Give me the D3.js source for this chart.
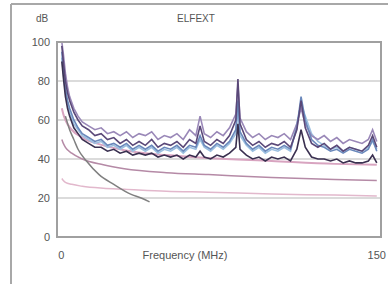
<!DOCTYPE html>
<html>
<head>
<meta charset="utf-8">
<script src="https://cdn.jsdelivr.net/npm/d3@7"></script>
<style>
  body { margin: 0; background: #fff; }
  svg { display: block; font-family: "Liberation Sans", Arial, sans-serif; }
</style>
</head>
<body>
<div id="chart"></div>
<script>
'use strict';

// measured sweep frequencies (MHz)
const freqs = [0.3,1,2,3,4,6,8,10,13,16,19,22,25,28,31,34,37,40,43,46,49,52,55,58,61,64,66,68,71,74,77,80,83,84,85,88,91,94,97,100,103,106,109,112,114,116,119,122,125,128,131,134,137,140,143,146,148,150]

// measured pairs (dB)
const pairA = [98,90,80,74,70,64,60,57,55,52, 53,50,51,48,50,47,49,47,50,46, 48,47,49,46,50,48,57,49,47,50, 48,52,60,81,58,50,47,49,46,48, 47,49,46,55,70,56,48,46,48,45, 47,44,46,45,44,47,52,46]
const pairB = [100,94,84,77,72,66,62,59,57,55, 56,53,54,52,54,51,53,52,54,50, 52,51,53,50,55,52,62,53,51,54, 52,56,63,78,61,54,51,53,50,52, 51,53,50,58,66,58,52,50,52,49, 51,48,50,49,48,50,55,49]
const pairC = [95,86,76,70,66,60,56,53,51,49, 50,47,48,46,48,45,47,45,47,44, 46,45,47,44,47,46,52,47,45,48, 46,49,55,70,54,48,45,47,44,46, 45,47,45,56,72,60,50,47,46,44, 45,43,45,44,43,45,50,44]
const pairD = [92,84,74,68,64,58,55,52,50,48, 49,46,47,45,47,44,46,44,46,43, 45,44,46,43,46,45,50,46,44,47, 45,48,53,66,52,47,44,46,43,45, 44,46,44,58,68,62,53,49,47,45, 46,44,46,45,44,46,49,45]
const pairE = [90,82,72,66,62,56,53,50,48,46, 46,44,45,43,44,42,43,42,43,41, 42,41,42,40,42,41,44,41,40,42, 41,43,46,58,45,42,40,41,39,41, 40,41,39,45,55,46,41,40,40,39, 40,38,39,38,38,39,42,38]

// limit lines
const limitFreqs = [0.3,1,2,5,10,20,30,50,70,100,130,150]
const limitUpper = [66,63,60,55,51,47,44.5,42,40.5,39,37.5,37]
const limitMid = [50,48,46,43,40,37,35,33,32,30.5,29.5,29]
const limitLow = [30,29,28,27,26,25,24.5,23.5,23,22,21.5,21]
const grayFreqs = [2,4,6,8,12,18,25,33,38,42]
const grayVals = [62,55,50,45,39,32,27,22,20,18]

const yTicks = [0,20,40,60,80,100]

const width = 388, height = 284
const margin = {left: 57, right: 7, top: 42, bottom: 47}

const svg = d3.select('#chart').append('svg')
  .attr('width', width)
  .attr('height', height)

// outer frame
svg.append('line').attr('x1', 11).attr('x2', 11).attr('y1', 4).attr('y2', height)
  .attr('stroke', '#a8a8a8').attr('stroke-width', 2)
svg.append('line').attr('x1', 11).attr('x2', width).attr('y1', 4).attr('y2', 4)
  .attr('stroke', '#a8a8a8').attr('stroke-width', 2)

const xScale = d3.scaleLinear()
  .domain([-2, 152])
  .range([margin.left, width - margin.right])
const yScale = d3.scaleLinear()
  .domain([0, 100])
  .range([height - margin.bottom, margin.top])

// gridlines
svg.append('g').selectAll('line')
  .data(yTicks.filter(d => d > 0 && d < 100))
  .join('line')
  .attr('x1', margin.left).attr('x2', width - margin.right)
  .attr('y1', d => yScale(d)).attr('y2', d => yScale(d))
  .attr('stroke', '#cfcfcf').attr('stroke-width', 1.5)

// lines
const line = (xs) => d3.line()
  .x((d, i) => xScale(xs[i]))
  .y(d => yScale(d))

const curves = [
  {xs: limitFreqs, v: limitLow, color: '#e2b8cc', w: 1.5, curve: d3.curveMonotoneX},
  {xs: limitFreqs, v: limitMid, color: '#b58aa6', w: 1.5, curve: d3.curveMonotoneX},
  {xs: limitFreqs, v: limitUpper, color: '#d8a4c0', w: 2, curve: d3.curveMonotoneX},
  {xs: grayFreqs, v: grayVals, color: '#808080', w: 1.5, curve: d3.curveMonotoneX},
  {xs: freqs, v: pairD, color: '#9cc0e0', w: 1.6, curve: d3.curveLinear},
  {xs: freqs, v: pairB, color: '#9a88b8', w: 1.6, curve: d3.curveLinear},
  {xs: freqs, v: pairC, color: '#6a88bb', w: 1.6, curve: d3.curveLinear},
  {xs: freqs, v: pairA, color: '#5a4878', w: 1.6, curve: d3.curveLinear},
  {xs: freqs, v: pairE, color: '#3a3050', w: 1.6, curve: d3.curveLinear},
]

const plot_g = svg.append('g')
plot_g.selectAll('path')
  .data(curves)
  .join('path')
  .attr('d', d => line(d.xs).curve(d.curve)(d.v))
  .attr('fill', 'none')
  .attr('stroke', d => d.color)
  .attr('stroke-width', d => d.w)

// plot frame
svg.append('rect')
  .attr('x', margin.left).attr('y', margin.top)
  .attr('width', width - margin.left - margin.right)
  .attr('height', height - margin.top - margin.bottom)
  .attr('fill', 'none')
  .attr('stroke', '#a0a0a0').attr('stroke-width', 2)

// y axis labels
svg.append('g').selectAll('text')
  .data(yTicks)
  .join('text')
  .attr('x', 50)
  .attr('y', d => yScale(d) + 4)
  .attr('text-anchor', 'end')
  .attr('font-size', '11px')
  .attr('fill', '#555')
  .text(d => d)

// x axis labels
svg.append('g').selectAll('text')
  .data([0, 150])
  .join('text')
  .attr('x', d => xScale(d))
  .attr('y', 259)
  .attr('text-anchor', 'middle')
  .attr('font-size', '11px')
  .attr('fill', '#555')
  .text(d => d)

svg.append('text')
  .attr('x', 185).attr('y', 259)
  .attr('text-anchor', 'middle')
  .attr('font-size', '11px')
  .attr('fill', '#555')
  .text('Frequency (MHz)')

svg.append('text')
  .attr('x', 42).attr('y', 22)
  .attr('text-anchor', 'middle')
  .attr('font-size', '10px')
  .attr('fill', '#555')
  .text('dB')

svg.append('text')
  .attr('x', 196).attr('y', 22)
  .attr('text-anchor', 'middle')
  .attr('font-size', '10px')
  .attr('fill', '#555')
  .text('ELFEXT')
</script>
</body>
</html>
